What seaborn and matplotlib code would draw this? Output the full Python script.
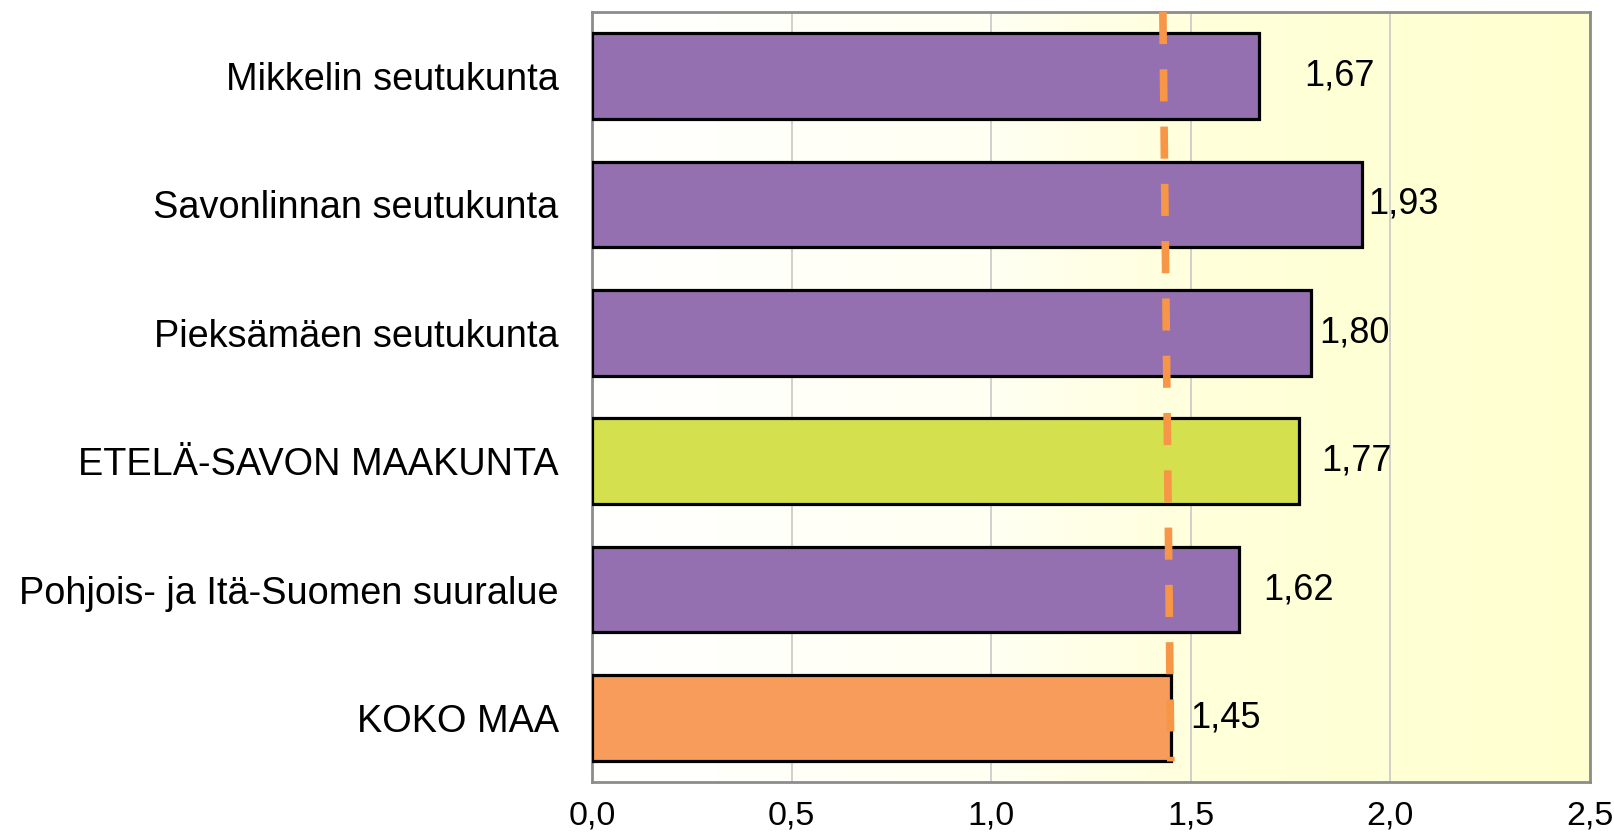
import numpy as np
import pandas as pd
import seaborn as sns
import matplotlib.pyplot as plt
from matplotlib.colors import LinearSegmentedColormap

categories = ["Mikkelin seutukunta", "Savonlinnan seutukunta", "Pieksämäen seutukunta",
              "ETELÄ-SAVON MAAKUNTA", "Pohjois- ja Itä-Suomen suuralue", "KOKO MAA"]
values = [1.67, 1.93, 1.80, 1.77, 1.62, 1.45]
value_labels = ["1,67", "1,93", "1,80", "1,77", "1,62", "1,45"]
ref_line = [1.43, 1.45]  # dashed reference, top -> bottom
ticks = [0.0, 0.5, 1.0, 1.5, 2.0, 2.5]
tick_labels = ["0,0", "0,5", "1,0", "1,5", "2,0", "2,5"]

bar_colors = ["#9570B0", "#9570B0", "#9570B0", "#D4E04E", "#9570B0", "#F79C5A"]
label_gap = [33, 4, 6, 16, 18, 14]  # points, as in the original

sns.set_style("white")
plt.rcParams["font.family"] = ["Liberation Sans", "DejaVu Sans"]
plt.rcParams["text.color"] = "black"

df = pd.DataFrame({"region": categories, "value": values})

fig = plt.figure(figsize=(16.14, 8.32), dpi=100)
ax = fig.add_axes([592 / 1614, 1 - 782 / 832, 998 / 1614, 770 / 832])

# background gradient white -> pale yellow
cmap = LinearSegmentedColormap.from_list("bg", [(0, "#FFFFFF"), (0.4, "#FFFFF2"),
                                                (0.62, "#FFFFDA"), (1, "#FFFFD0")])
grad = np.linspace(0, 1, 256).reshape(1, -1)
ax.imshow(grad, extent=[0, 2.5, 5.5, -0.5], aspect="auto", cmap=cmap, zorder=0)

sns.barplot(data=df, x="value", y="region", hue="region", palette=bar_colors,
            legend=False, orient="h", width=0.67, edgecolor="black",
            linewidth=2.3, saturation=1, ax=ax, zorder=3)

ax.plot(ref_line, [-0.5, 5.34], color="#F79646", linewidth=5.5,
        dashes=(4.2, 3.3), zorder=5, solid_capstyle="butt")

for i, (v, lab) in enumerate(zip(values, value_labels)):
    ax.annotate(lab, (v, i), xytext=(label_gap[i], 0), textcoords="offset points",
                ha="left", va="center", fontsize=26, color="black", zorder=6)

ax.set_xlim(0, 2.5)
ax.set_ylim(5.5, -0.5)
ax.set_xticks(ticks)
ax.set_xticklabels(tick_labels, fontsize=24.5, color="black",
                   family=["Liberation Sans Narrow", "Liberation Sans", "DejaVu Sans"])
ax.tick_params(axis="x", length=0, pad=13)
ax.tick_params(axis="y", length=0, pad=24, labelsize=27.3, labelcolor="black")
ax.set_xlabel("")
ax.set_ylabel("")
ax.xaxis.grid(True, color="#C8C8C8", linewidth=1.2, zorder=1)
ax.set_axisbelow(True)
for s in ax.spines.values():
    s.set_color("#8C8C8C")
    s.set_linewidth(2)
    s.set_visible(True)

fig.savefig("out.png", dpi=100)
